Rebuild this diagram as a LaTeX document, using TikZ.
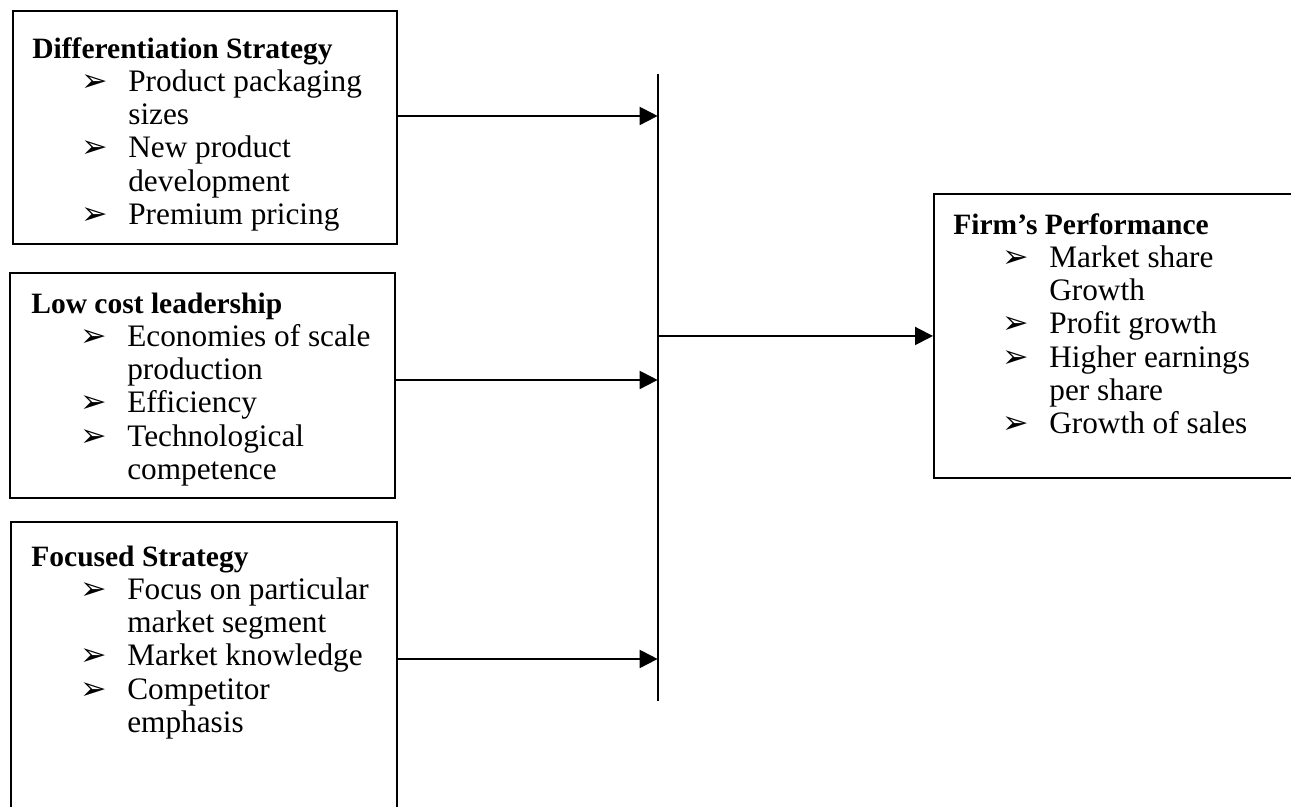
\documentclass[tikz,border=0pt]{standalone}
\usepackage{fontspec}
\setmainfont{Liberation Serif}
\newfontfamily\symfont{DejaVu Sans}
\usetikzlibrary{arrows.meta}

\newlength{\pxu}\setlength{\pxu}{0.02cm}
\newcommand{\bul}{\hspace*{49\pxu}\makebox[47\pxu][l]{\symfont\fontsize{18}{18}\selectfont ➢}}
\newcommand{\ind}{\hspace*{96\pxu}}
\newcommand{\heading}[1]{{\fontsize{16.8}{18.95}\selectfont\bfseries #1}}

\tikzset{
  box/.style={draw=black, line width=1.1pt, rectangle, inner sep=0pt, anchor=north west},
  txt/.style={anchor=base west, inner sep=0pt, font=\fontsize{17.8}{18.95}\selectfont},
  conn/.style={draw=black, line width=1.1pt, -{Triangle[length=0.36cm,width=0.36cm]}}
}

\begin{document}
\begin{tikzpicture}[x=0.02cm, y=-0.02cm]
    \useasboundingbox (0,0) rectangle (1291,806);
    \clip (0,0) rectangle (1291,806);
    % okviri strategija
    \node (diff)    [box, minimum width=384\pxu, minimum height=233\pxu] at (12,10) {};
    \node (lowcost) [box, minimum width=385\pxu, minimum height=225\pxu] at (9,272) {};
    \node (focus)   [box, minimum width=386\pxu, minimum height=309\pxu] at (10,521) {};
    \node (perf)    [box, minimum width=367\pxu, minimum height=284\pxu] at (933,193) {};
    % tekst u okvirima
    \node (difftxt) [txt] at (32,58) {\parbox[t]{360\pxu}{\heading{Differentiation Strategy}\\
        \bul Product packaging\\ \ind sizes\\ \bul New product\\ \ind development\\ \bul Premium pricing}};
    \node (lowtxt) [txt] at (31,313) {\parbox[t]{360\pxu}{\heading{Low cost leadership}\\
        \bul Economies of scale\\ \ind production\\ \bul Efficiency\\ \bul Technological\\ \ind competence}};
    \node (focustxt) [txt] at (31,566) {\parbox[t]{360\pxu}{\heading{Focused Strategy}\\
        \bul Focus on particular\\ \ind market segment\\ \bul Market knowledge\\ \bul Competitor\\ \ind emphasis}};
    \node (perftxt) [txt] at (953,234) {\parbox[t]{340\pxu}{\heading{Firm’s Performance}\\
        \bul Market share\\ \ind Growth\\ \bul Profit growth\\ \bul Higher earnings\\ \ind per share\\ \bul Growth of sales}};
    % sabirna linija
    \node (bar) [minimum width=0pt, minimum height=626\pxu, inner sep=0pt, anchor=north] at (658,74) {};
    \draw [line width=1.1pt] (bar.north) -- (bar.south);
    % strelice ka sabirnoj liniji
    \draw [conn] ([yshift=11.5\pxu]diff.east) coordinate (d1) -- (d1 -| bar.west);
    \draw [conn] ([yshift=5.5\pxu]lowcost.east) coordinate (d2) -- (d2 -| bar.west);
    \draw [conn] ([yshift=17.5\pxu]focus.east) coordinate (d3) -- (d3 -| bar.west);
    % strelica ka performansama
    \draw [conn] (bar.center |- perf.west) -- (perf.west);
\end{tikzpicture}
\end{document}
